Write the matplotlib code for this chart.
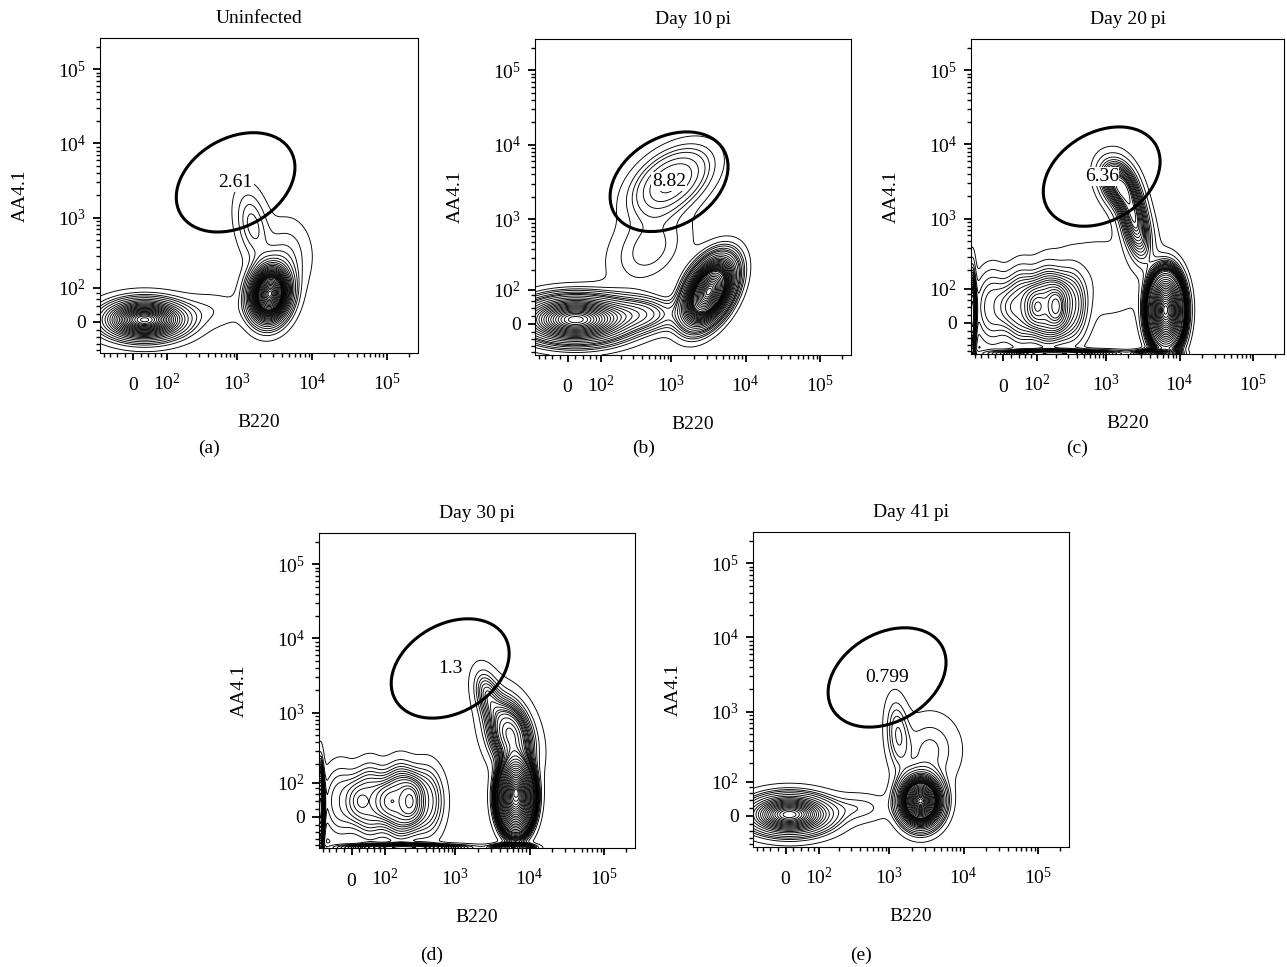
import numpy as np
from math import gamma
import matplotlib
matplotlib.use("Agg")
import matplotlib.pyplot as plt
from matplotlib.patches import Ellipse

plt.rcParams["font.family"] = ["Liberation Serif", "DejaVu Serif"]
plt.rcParams["mathtext.fontset"] = "custom"
plt.rcParams["mathtext.rm"] = "Liberation Serif"
plt.rcParams["mathtext.it"] = "Liberation Serif:italic"
plt.rcParams["mathtext.bf"] = "Liberation Serif:bold"

FIG_W, FIG_H = 1287, 967
W_LIN = 40.0  # linear width of the biexponential display transform


def T(v):
    v = np.asarray(v, dtype=float)
    return np.log10((v + np.sqrt(v * v + 4 * W_LIN ** 2)) / 2.0)


# ---------------- text -----------------
titles = ["Uninfected", "Day 10\u2009pi", "Day 20\u2009pi", "Day 30\u2009pi", "Day 41\u2009pi"]
letters = ["(a)", "(b)", "(c)", "(d)", "(e)"]
x_label = "B220"
y_label = "AA4.1"

# ---------------- gates -----------------
gate_labels = ["2.61", "8.82", "6.36", "1.3", "0.799"]
gate_center_b220 = [950, 930, 870, 850, 930]
gate_center_aa41 = [3000, 3200, 3700, 3950, 2900]
gate_width_dec = 1.70
gate_height_dec = 1.19
gate_angle = 30

# ---------------- axes ticks -----------------
major_tick_values = [0, 1e2, 1e3, 1e4, 1e5]
major_tick_labels = ["0", r"$\mathregular{10^{2}}$", r"$\mathregular{10^{3}}$",
                     r"$\mathregular{10^{4}}$", r"$\mathregular{10^{5}}$"]
minor_tick_values = ([-80, -60, -40, -20, 20, 40, 60, 80]
                     + [k * 10 ** d for d in (2, 3, 4) for k in range(2, 10)]
                     + [2e5])
axis_min_x = -95
axis_min_y = -90
axis_max = 262144

# ---------------- populations
# centre B220, centre AA4.1, spread (decades), correlation, event fraction, flatness
a_b220 = [30, 2730, 1600, 4500, 450]
a_aa41 = [5, 78, 800, 300, 30]
a_sx = [0.31, 0.15, 0.14, 0.20, 0.30]
a_sy = [0.15, 0.21, 0.30, 0.30, 0.15]
a_rho = [0.0, 0.1, -0.3, 0.0, 0.0]
a_frac = [0.40, 0.45, 0.04, 0.04, 0.015]
a_flat = [1.0, 1.0, 1.0, 1.0, 1.0]

b_b220 = [20, 3200, 1000, 500, 400]
b_aa41 = [10, 93, 3300, 400, 25]
b_sx = [0.42, 0.19, 0.38, 0.35, 0.30]
b_sy = [0.18, 0.25, 0.32, 0.35, 0.14]
b_rho = [0.0, 0.45, 0.45, 0.3, 0.0]
b_frac = [0.36, 0.37, 0.085, 0.05, 0.04]
b_flat = [1.0, 1.0, 1.3, 1.0, 1.0]

c_b220 = [-28, 48, 148, 311, -90, 200, 5000, 6500, 2400, 1400, 800]
c_aa41 = [40, 40, 40, 40, 20, -88, -88, 30, 1000, 3000, 150]
c_sx = [0.17, 0.17, 0.17, 0.17, 0.03, 0.50, 0.15, 0.17, 0.14, 0.15, 0.60]
c_sy = [0.34, 0.34, 0.34, 0.34, 0.35, 0.03, 0.03, 0.36, 0.35, 0.20, 0.40]
c_rho = [0.0, 0.0, 0.0, 0.0, 0.0, 0.0, 0.0, 0.0, -0.5, -0.3, 0.0]
c_frac = [0.04, 0.06, 0.08, 0.05, 0.03, 0.04, 0.02, 0.38, 0.08, 0.05, 0.05]
c_flat = [1.4, 1.4, 1.4, 1.4, 1.0, 1.0, 1.0, 1.5, 1.0, 1.0, 1.0]

d_b220 = [-28, 48, 172, 396, -90, 200, 6000, 6500, 5500, 2600]
d_aa41 = [40, 40, 40, 40, 20, -88, -88, 50, 500, 1900]
d_sx = [0.18, 0.18, 0.18, 0.18, 0.03, 0.50, 0.15, 0.17, 0.20, 0.12]
d_sy = [0.35, 0.35, 0.35, 0.35, 0.35, 0.03, 0.03, 0.33, 0.32, 0.22]
d_rho = [0.0, 0.0, 0.0, 0.0, 0.0, 0.0, 0.0, 0.0, -0.3, -0.3]
d_frac = [0.04, 0.06, 0.08, 0.05, 0.04, 0.04, 0.02, 0.33, 0.14, 0.02]
d_flat = [1.4, 1.4, 1.4, 1.4, 1.0, 1.0, 1.0, 1.5, 1.0, 1.0]

e_b220 = [10, 2630, 1300, 3500, 400]
e_aa41 = [3, 38, 500, 300, 20]
e_sx = [0.32, 0.15, 0.10, 0.25, 0.25]
e_sy = [0.15, 0.18, 0.30, 0.30, 0.12]
e_rho = [0.0, 0.0, -0.2, 0.0, 0.0]
e_frac = [0.35, 0.45, 0.03, 0.05, 0.015]
e_flat = [1.0, 1.0, 1.0, 1.0, 1.0]

panel_pops = [
    (a_b220, a_aa41, a_sx, a_sy, a_rho, a_frac, a_flat),
    (b_b220, b_aa41, b_sx, b_sy, b_rho, b_frac, b_flat),
    (c_b220, c_aa41, c_sx, c_sy, c_rho, c_frac, c_flat),
    (d_b220, d_aa41, d_sx, d_sy, d_rho, d_frac, d_flat),
    (e_b220, e_aa41, e_sx, e_sy, e_rho, e_frac, e_flat),
]

# layout in pixels: left, top, right, bottom
axes_px = [(100, 38, 418, 353), (535, 39, 851, 355), (971, 39, 1284, 354),
           (319, 533, 635, 848), (753, 532, 1069, 847)]
letter_px = [(209, 448), (644, 448), (1077, 448), (432, 955), (861, 955)]

N_LEVELS = 36
LEVEL_GAMMA = 1.4
PROB_MAX = 0.985


def density(pops, GX, GY):
    xs, ys, sxs, sys_, rhos, fr, ks = pops
    D = np.zeros_like(GX)
    for x, y, sx, sy, r, f, k in zip(xs, ys, sxs, sys_, rhos, fr, ks):
        mx, my = T(x), T(y)
        dx = (GX - mx) / sx
        dy = (GY - my) / sy
        q = (dx * dx - 2 * r * dx * dy + dy * dy) / (1 - r * r)
        norm = 2 * np.pi * sx * sy * np.sqrt(1 - r * r) * gamma(1 + 1 / k)
        D += f / norm * np.exp(-(0.5 * q) ** k)
    return D


fig = plt.figure(figsize=(FIG_W / 100, FIG_H / 100), dpi=100)

xlo, xhi = float(T(axis_min_x)), float(T(axis_max))
ylo, yhi = float(T(axis_min_y)), float(T(axis_max))
gx = np.linspace(xlo, xhi, 420)
gy = np.linspace(ylo, yhi, 420)
GX, GY = np.meshgrid(gx, gy)

for i in range(5):
    l, t, r, b = axes_px[i]
    ax = fig.add_axes([l / FIG_W, 1 - b / FIG_H, (r - l) / FIG_W, (b - t) / FIG_H])
    D = density(panel_pops[i], GX, GY)
    flat = np.sort(D.ravel())[::-1]
    cum = np.cumsum(flat)
    cum /= cum[-1]
    probs = PROB_MAX * (np.arange(1, N_LEVELS + 1) / N_LEVELS) ** LEVEL_GAMMA
    lv = np.unique(flat[np.searchsorted(cum, probs)])
    ax.contour(GX, GY, D, levels=lv, colors="black", linewidths=0.65)

    gcx, gcy = float(T(gate_center_b220[i])), float(T(gate_center_aa41[i]))
    ax.add_patch(Ellipse((gcx, gcy), gate_width_dec, gate_height_dec, angle=gate_angle,
                         fill=False, ec="black", lw=2.2, zorder=5))
    ax.text(gcx, gcy, gate_labels[i], ha="center", va="center", fontsize=14, zorder=6,
            bbox=dict(fc="white", ec="none", pad=0.5))

    ax.set_xlim(xlo, xhi)
    ax.set_ylim(ylo, yhi)
    ax.set_xticks(T(major_tick_values))
    ax.set_xticklabels(major_tick_labels)
    ax.set_yticks(T(major_tick_values))
    ax.set_yticklabels(major_tick_labels)
    ax.set_xticks(T(minor_tick_values), minor=True)
    ax.set_yticks(T([v for v in minor_tick_values if v < 2.6e5]), minor=True)
    ax.tick_params(which="major", direction="out", length=5, width=1.3, labelsize=14,
                   top=False, right=False)
    ax.tick_params(which="minor", direction="out", length=3.2, width=1.0,
                   top=False, right=False)
    ax.tick_params(axis="x", which="major", pad=22)
    ax.tick_params(axis="y", which="major", pad=5)
    for lab in ax.get_xticklabels():
        lab.set_verticalalignment("baseline")
    for lab in ax.get_yticklabels():
        lab.set_verticalalignment("center_baseline")
    for s in ax.spines.values():
        s.set_linewidth(0.8)

    cx = (l + r) / 2
    fig.text(cx / FIG_W, 1 - (t - 15) / FIG_H, titles[i], ha="center", va="baseline", fontsize=14)
    fig.text(cx / FIG_W, 1 - (b + 74) / FIG_H, x_label, ha="center", va="baseline", fontsize=14)
    fig.text((l - 80) / FIG_W, 1 - ((t + b) / 2) / FIG_H, y_label, ha="center", va="center",
             rotation=90, fontsize=14)
    lx, ly = letter_px[i]
    fig.text(lx / FIG_W, 1 - ly / FIG_H, letters[i], ha="center", va="center", fontsize=14)

fig.savefig("out.png", dpi=100)
